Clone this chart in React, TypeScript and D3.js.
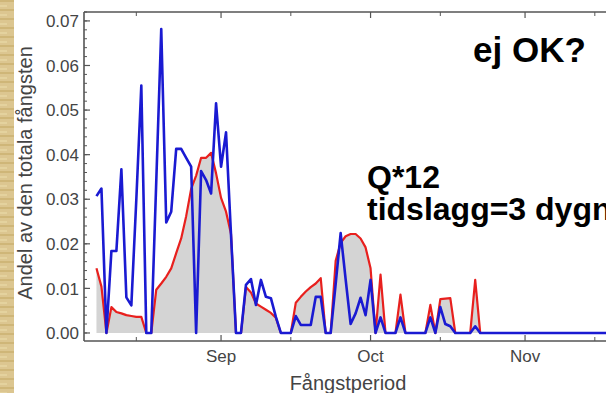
import React from "react";
import * as d3 from "d3";

// Daily values starting Aug 7
const startDate = new Date(Date.UTC(2010, 7, 7));
const blueValues = [
  0.0307, 0.0324, 0, 0.0184, 0.0184, 0.0367, 0.008, 0.0062, 0.03, 0.0555,
  0, 0, 0.034, 0.0682, 0.0248, 0.0272, 0.0413, 0.0413, 0.0393, 0.0373,
  0, 0.0363, 0.0343, 0.0313, 0.0515, 0.0373, 0.045, 0.022, 0, 0,
  0.0108, 0.0121, 0.0063, 0.0119, 0.0081, 0.0078, 0.0036, 0, 0, 0,
  0.0038, 0.0018, 0.0018, 0.0018, 0.0081, 0.0081, 0, 0, 0.011, 0.0224,
  0.012, 0.002, 0.0044, 0.0079, 0.004, 0.0119, 0, 0.0035, 0, 0,
  0, 0.0035, 0, 0, 0, 0, 0, 0.0035, 0, 0.0058,
  0.002, 0.0015, 0, 0, 0, 0, 0.0015, 0, 0, 0,
  0, 0, 0, 0, 0, 0, 0, 0, 0, 0,
  0, 0, 0, 0, 0, 0, 0, 0, 0, 0,
  0, 0, 0, 0, 0,
];
const redValues = [
  0.0145, 0.0104, 0, 0.0058, 0.0047, 0.0044, 0.004, 0.0038, 0.0036, 0.0036,
  0, 0, 0.0097, 0.0111, 0.0126, 0.0145, 0.0179, 0.0212, 0.0262, 0.0323,
  0.0353, 0.0393, 0.0393, 0.0404, 0.0358, 0.0303, 0.0272, 0.0222, 0, 0,
  0.0103, 0.0091, 0.0066, 0.0059, 0.0052, 0.0045, 0.0034, 0, 0, 0,
  0.0068, 0.0081, 0.0093, 0.0103, 0.0111, 0.0123, 0, 0, 0.0162, 0.0202,
  0.0217, 0.0222, 0.0222, 0.0212, 0.0192, 0.0145, 0, 0.0131, 0, 0,
  0, 0.0086, 0, 0, 0, 0, 0, 0.0063, 0, 0.0076,
  0.0077, 0.0078, 0, 0, 0, 0, 0.0119, 0, 0, 0,
  0, 0, 0, 0, 0, 0, 0, 0, 0, 0,
  0, 0, 0, 0, 0, 0, 0, 0, 0, 0,
  0, 0, 0, 0, 0,
];
const yTickValues = [0, 0.01, 0.02, 0.03, 0.04, 0.05, 0.06, 0.07];
const monthLabels = ["Sep", "Oct", "Nov"];
const xTitle = "Fångstperiod";
const yTitle = "Andel av den totala fångsten";
const notes = ["ej OK?", "Q*12", "tidslagg=3 dygn"];

const W = 606;
const H = 393;
const left = 84;
const top = 12;
const bottom = 341;

export default function App() {
  const x = d3
    .scaleUtc()
    .domain([new Date(Date.UTC(2010, 7, 4, 12)), new Date(Date.UTC(2010, 10, 20))])
    .range([left, left + 107.5 * ((525 - 221) / 61)]);
  const y = d3.scaleLinear().domain([-0.0018, 0.072]).range([bottom, top]);

  const dates = blueValues.map((_, i) => d3.utcDay.offset(startDate, i));
  const redPts = redValues.map((v, i) => [dates[i], v] as [Date, number]);
  const bluePts = blueValues.map((v, i) => [dates[i], v] as [Date, number]);

  const area = d3
    .area<[Date, number]>()
    .x((d) => x(d[0]))
    .y0(y(0))
    .y1((d) => y(d[1]));
  const line = d3
    .line<[Date, number]>()
    .x((d) => x(d[0]))
    .y((d) => y(d[1]));

  const majorX = d3.utcMonth.range(x.domain()[0], x.domain()[1]);
  const minorX = d3.utcMonth
    .range(d3.utcMonth.offset(x.domain()[0], -1), x.domain()[1])
    .map((m) => d3.utcDay.offset(m, 14))
    .filter((d) => d >= x.domain()[0] && d <= x.domain()[1]);
  const minorY = d3.range(0, 0.0721, 0.002);

  const axisColor = "#555";
  const xEnd = x.range()[1];

  return (
    <svg
      width={W}
      height={H}
      style={{ position: "absolute", left: 0, top: 0, background: "#fff" }}
      fontFamily="Liberation Sans, Arial, sans-serif"
    >
      <defs>
        <pattern id="tex" width="14" height="9" patternUnits="userSpaceOnUse">
          <rect width="14" height="9" fill="#dcc690" />
          <rect y="0" width="14" height="2" fill="#cfb678" />
          <rect y="5" width="7" height="2" fill="#e4d29e" />
        </pattern>
      </defs>
      <rect x={0} y={0} width={14} height={H} fill="url(#tex)" />
      <rect x={14} y={0} width={W - 14} height={H} fill="#fff" />

      <clipPath id="plotclip">
        <rect x={left} y={top} width={xEnd - left} height={bottom - top} />
      </clipPath>
      <g clipPath="url(#plotclip)">
        <path d={area(redPts) || ""} fill="#d4d4d4" />
        <path d={line(redPts) || ""} fill="none" stroke="#e8201e" strokeWidth={2.2} strokeLinejoin="round" />
        <path d={line(bluePts) || ""} fill="none" stroke="#1a1ad2" strokeWidth={2.6} strokeLinejoin="round" />
      </g>

      {/* frame */}
      <line x1={left} x2={left} y1={top} y2={bottom} stroke={axisColor} strokeWidth={1.6} />
      <line x1={left} x2={xEnd} y1={top} y2={top} stroke={axisColor} strokeWidth={1.6} />
      <line x1={left} x2={xEnd} y1={bottom} y2={bottom} stroke={axisColor} strokeWidth={1.6} />

      {yTickValues.map((v) => (
        <g key={"yt" + v}>
          <line x1={left} x2={left + 6} y1={y(v)} y2={y(v)} stroke={axisColor} strokeWidth={1.2} />
          <text x={left - 5} y={y(v)} dy="0.36em" textAnchor="end" fontSize={17} fill="#444">
            {v.toFixed(2)}
          </text>
        </g>
      ))}
      {minorY.map((v, i) => (
        <line key={"ym" + i} x1={left} x2={left + 3} y1={y(v)} y2={y(v)} stroke={axisColor} strokeWidth={1} />
      ))}
      {majorX.map((d, i) => (
        <g key={"xt" + i}>
          <line x1={x(d)} x2={x(d)} y1={bottom} y2={bottom - 6} stroke={axisColor} strokeWidth={1.2} />
          <line x1={x(d)} x2={x(d)} y1={top} y2={top + 6} stroke={axisColor} strokeWidth={1.2} />
          <text x={x(d)} y={362} textAnchor="middle" fontSize={17} fill="#444">
            {monthLabels[i]}
          </text>
        </g>
      ))}
      {minorX.map((d, i) => (
        <g key={"xm" + i}>
          <line x1={x(d)} x2={x(d)} y1={bottom} y2={bottom - 4} stroke={axisColor} strokeWidth={1} />
          <line x1={x(d)} x2={x(d)} y1={top} y2={top + 4} stroke={axisColor} strokeWidth={1} />
        </g>
      ))}

      <text x={348} y={390} textAnchor="middle" fontSize={20} fill="#444">
        {xTitle}
      </text>
      <text
        transform="translate(32,173) rotate(-90)"
        textAnchor="middle"
        fontSize={20}
        fill="#444"
      >
        {yTitle}
      </text>

      <text x={473} y={62} fontSize={35} fontWeight="bold" fill="#000">
        {notes[0]}
      </text>
      <text x={367} y={188} fontSize={32} fontWeight="bold" fill="#000">
        {notes[1]}
      </text>
      <text x={367} y={220} fontSize={32} fontWeight="bold" fill="#000">
        {notes[2]}
      </text>
    </svg>
  );
}
